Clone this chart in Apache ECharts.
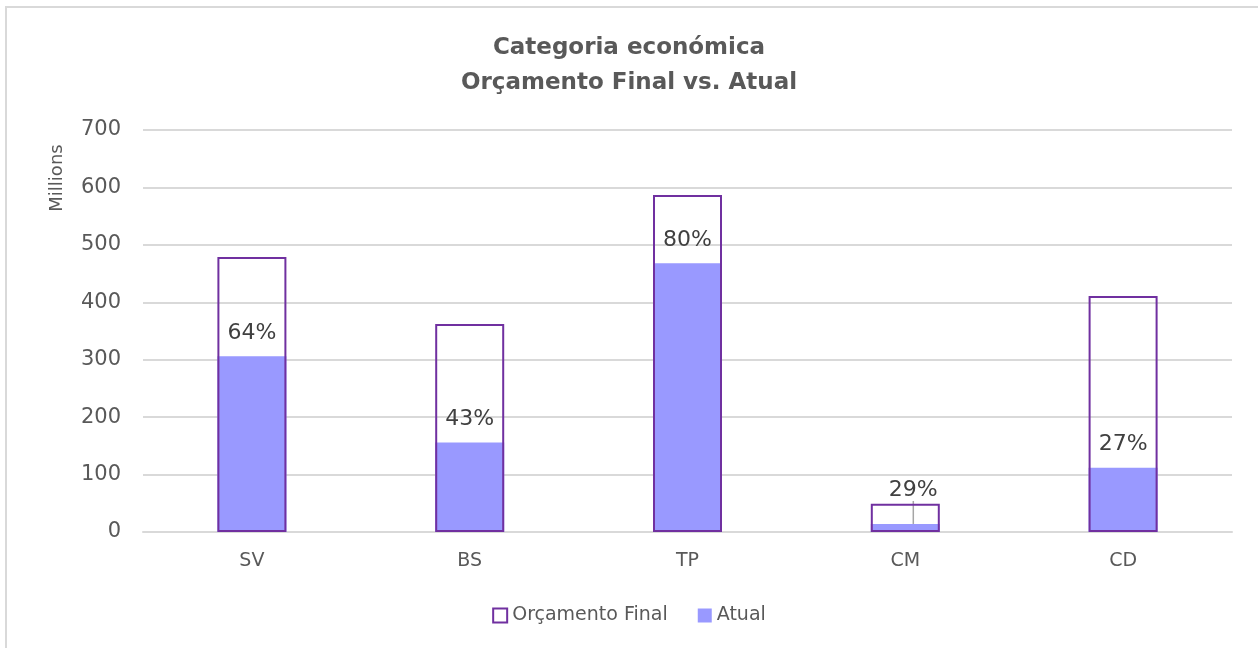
<!DOCTYPE html>
<html lang="en">

<head>
    <meta charset="UTF-8">
    <title>Categoria económica</title>
    <script src="https://cdn.jsdelivr.net/npm/echarts@6/dist/echarts.min.js"></script>
    <style>
        body { margin: 0; background: #fff; }
    </style>
</head>

<body>
    <div id="main" style="width: 1258px;height:648px;"></div>
    <script type="text/javascript">
        // values in millions
        const categories = ['SV', 'BS', 'TP', 'CM', 'CD'];
        const orcamentoFinal = [479, 362, 587, 49, 411];
        const atual = [306, 156, 468, 14, 112];
        const percentLabels = ['64%', '43%', '80%', '29%', '27%'];
        const yTicks = [0, 100, 200, 300, 400, 500, 600, 700];

        const textColor = '#595959';
        const font = '"DejaVu Sans", sans-serif';

        let myChart = echarts.init(document.getElementById('main'));

        // only the small CM label gets a leader line
        const atualData = atual.map((v, i) => i === 3 ? { value: v, labelLine: { show: true } } : v);

        let options = {
            backgroundColor: '#fff',
            textStyle: { fontFamily: font },
            title: {
                text: 'Categoria económica\nOrçamento Final vs. Atual',
                left: 'center',
                top: 26,
                textStyle: { fontSize: 23, fontWeight: 'bold', color: textColor, lineHeight: 35, fontFamily: font }
            },
            graphic: [
                {
                    type: 'rect',
                    shape: { x: 6, y: 7, width: 1270, height: 680 },
                    style: { fill: 'none', stroke: '#d9d9d9', lineWidth: 2 },
                    silent: true
                },
                {
                    type: 'text',
                    x: 57, y: 178,
                    rotation: Math.PI / 2,
                    style: {
                        text: 'Millions', fill: textColor, fontSize: 18, fontFamily: font,
                        align: 'center', verticalAlign: 'middle'
                    }
                }
            ],
            legend: {
                bottom: 18,
                left: 'center',
                itemWidth: 14,
                itemHeight: 14,
                itemGap: 30,
                icon: 'rect',
                data: ['Orçamento Final', 'Atual'],
                textStyle: { fontSize: 19, color: textColor, fontFamily: font }
            },
            grid: { left: 143, right: 26, top: 130, bottom: 116 },
            xAxis: {
                type: 'category',
                data: categories,
                axisLine: { show: true, lineStyle: { color: '#d9d9d9', width: 2 } },
                axisTick: { show: false },
                axisLabel: { fontSize: 19, color: textColor, margin: 20 }
            },
            yAxis: {
                type: 'value',
                min: yTicks[0],
                max: yTicks[yTicks.length - 1],
                interval: 100,
                axisLine: { show: false },
                axisTick: { show: false },
                axisLabel: { fontSize: 21, color: textColor, margin: 22 },
                splitLine: { lineStyle: { color: '#d9d9d9', width: 2 } }
            },
            series: [
                {
                    name: 'Atual',
                    type: 'bar',
                    data: atualData,
                    barWidth: 69,
                    z: 2,
                    itemStyle: { color: '#9999ff' },
                    label: {
                        show: true,
                        position: 'top',
                        distance: 12,
                        fontSize: 22,
                        color: '#404040',
                        formatter: p => percentLabels[p.dataIndex]
                    },
                    labelLine: {
                        show: false,
                        lineStyle: { color: '#a6a6a6', width: 1.5 }
                    },
                    labelLayout: function (params) {
                        if (params.dataIndex === 3) {
                            return { dx: 8, dy: -11 };
                        }
                    }
                },
                {
                    name: 'Orçamento Final',
                    type: 'bar',
                    data: orcamentoFinal,
                    barWidth: 69,
                    barGap: '-100%',
                    z: 3,
                    itemStyle: { color: 'rgba(255,255,255,0)', borderColor: '#7030a0', borderWidth: 2 }
                }
            ]
        };

        myChart.setOption(options);
    </script>
</body>

</html>
